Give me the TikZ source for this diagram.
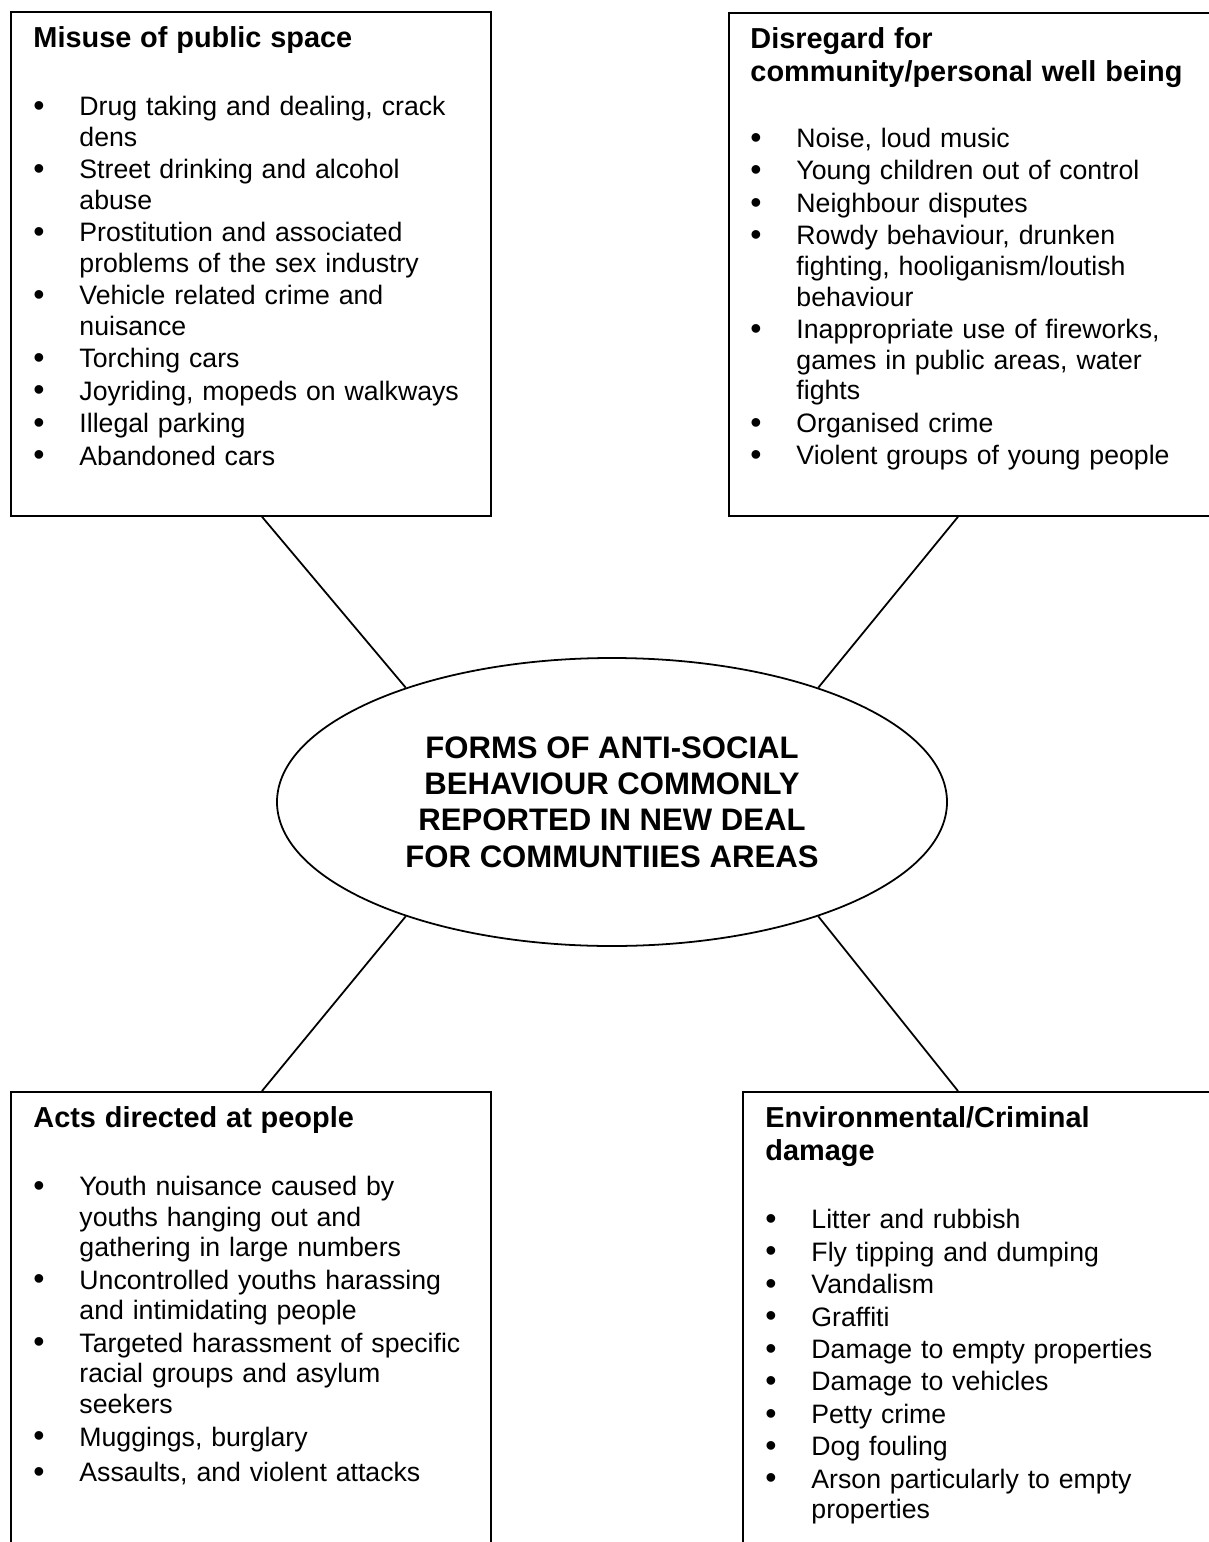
\documentclass[tikz,border=0pt]{standalone}
\usepackage{graphicx}
\usepackage{fontspec}
\setmainfont{Liberation Sans}
\usetikzlibrary{shapes.geometric}

\newdimen\pxl \pxl=0.45pt
\newcommand{\bitem}[1]{\par\vspace{0.8pt}\hangindent=46\pxl\hangafter=1\noindent\makebox[46\pxl][l]{\raisebox{-0.3pt}{\scalebox{1.2}{\textbullet}}}#1}
\newcommand{\boxtitle}[2][16pt]{{\bfseries\fontsize{13}{15}\selectfont #2\par}\vspace{#1}}

\begin{document}
\begin{tikzpicture}[x=0.45pt, y=-0.45pt,
  box/.style={draw, line width=0.8pt, anchor=north west, inner sep=0pt},
  boxtext/.style={anchor=north west, inner sep=0pt, text width=460\pxl, align=left,
    font=\fontsize{12}{13.8}\selectfont},
  hub/.style={draw, ellipse, line width=0.8pt, inner sep=0pt, minimum width=670\pxl,
    minimum height=288\pxl, align=center, font=\bfseries\fontsize{14}{16.4}\selectfont}]

  \useasboundingbox (0,0) rectangle (1209,1542);

  % Boxes (right and bottom edges run off the page)
  \node[box, minimum width=480\pxl, minimum height=504\pxl] (tl) at (10,11) {};
  \node[box, minimum width=502\pxl, minimum height=503\pxl] (tr) at (728,12) {};
  \node[box, minimum width=480\pxl, minimum height=470\pxl] (bl) at (10,1091) {};
  \node[box, minimum width=490\pxl, minimum height=470\pxl] (br) at (742,1091) {};

  % Centre
  \node[hub] (hub) at (612,802) {FORMS OF ANTI-SOCIAL\\BEHAVIOUR COMMONLY\\REPORTED IN NEW DEAL\\FOR COMMUNTIIES AREAS};

  % Box texts
  \node[boxtext] (tltxt) at ([xshift=23\pxl, yshift=-15\pxl]tl.north west) {%
    \boxtitle{Misuse of public space}%
    \bitem{Drug taking and dealing, crack\newline dens}%
    \bitem{Street drinking and alcohol\newline abuse}%
    \bitem{Prostitution and associated\newline problems of the sex industry}%
    \bitem{Vehicle related crime and\newline nuisance}%
    \bitem{Torching cars}%
    \bitem{Joyriding, mopeds on walkways}%
    \bitem{Illegal parking}%
    \bitem{Abandoned cars}\par};
  \node[boxtext] (trtxt) at ([xshift=22\pxl, yshift=-15\pxl]tr.north west) {%
    \boxtitle[15pt]{Disregard for\\community/personal well being}%
    \bitem{Noise, loud music}%
    \bitem{Young children out of control}%
    \bitem{Neighbour disputes}%
    \bitem{Rowdy behaviour, drunken\newline fighting, hooliganism/loutish\newline behaviour}%
    \bitem{Inappropriate use of fireworks,\newline games in public areas, water\newline fights}%
    \bitem{Organised crime}%
    \bitem{Violent groups of young people}\par};
  \node[boxtext] (bltxt) at ([xshift=23\pxl, yshift=-15\pxl]bl.north west) {%
    \boxtitle{Acts directed at people}%
    \bitem{Youth nuisance caused by\newline youths hanging out and\newline gathering in large numbers}%
    \bitem{Uncontrolled youths harassing\newline and intimidating people}%
    \bitem{Targeted harassment of specific\newline racial groups and asylum\newline seekers}%
    \bitem{Muggings, burglary}%
    \par\vspace{1.5pt}%
    \bitem{Assaults, and violent attacks}\par};
  \node[boxtext] (brtxt) at ([xshift=23\pxl, yshift=-15\pxl]br.north west) {%
    \boxtitle{Environmental/Criminal\\damage}%
    \bitem{Litter and rubbish}%
    \bitem{Fly tipping and dumping}%
    \bitem{Vandalism}%
    \bitem{Graffiti}%
    \bitem{Damage to empty properties}%
    \bitem{Damage to vehicles}%
    \bitem{Petty crime}%
    \bitem{Dog fouling}%
    \bitem{Arson particularly to empty\newline properties}\par};

  % Spokes from the boxes to the centre
  \foreach \b/\c/\s/\a in {tl/south west/252/151, tr/south west/230/29,
                            bl/north west/252/209, br/north west/216/331}
  {
    \draw[line width=0.8pt] ([xshift=\s\pxl]\b.\c) -- (hub.\a);
  }

\end{tikzpicture}
\end{document}
